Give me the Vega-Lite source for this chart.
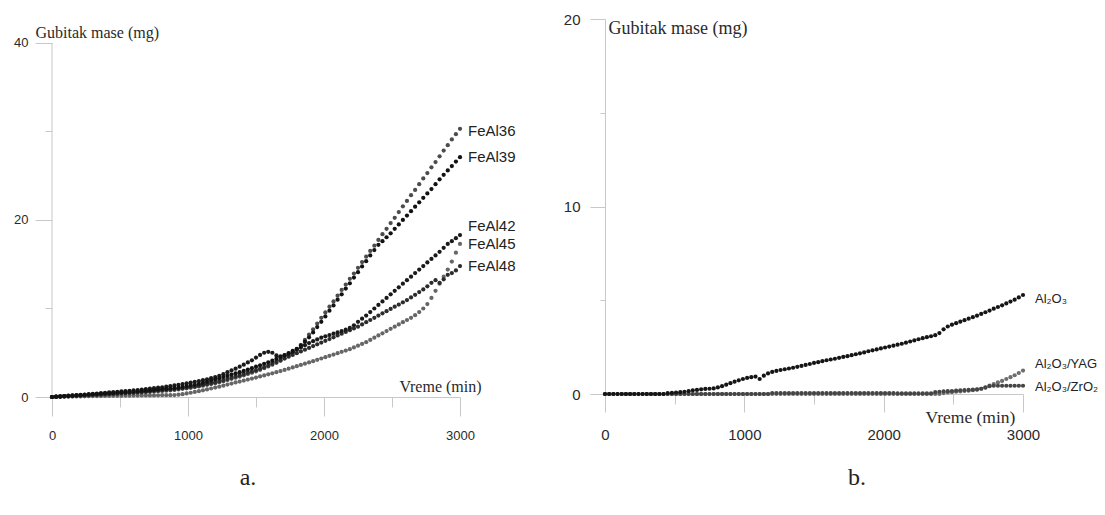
{
  "$schema": "https://vega.github.io/schema/vega-lite/v6.json",
  "autosize": {"type": "pad"},
  "padding": {"left": 13, "top": 12, "right": 0, "bottom": 0},
  "background": "white",
  "bounds": "flush",
  "spacing": 145,
  "resolve": {"scale": {"color": "independent"}},
  "config": {
    "view": {"stroke": null},
    "axis": {"grid": false, "domainColor": "#c8c8c8", "tickColor": "#c8c8c8", "labelColor": "#2a2a2a", "labelFont": "Liberation Sans", "titleFont": "Liberation Serif", "titleFontWeight": "normal", "titleColor": "#2a2a2a", "labelOverlap": false, "labelFlush": false},
    "title": {"font": "Liberation Serif", "fontWeight": "normal", "color": "#222222"}
  },
  "datasets": {
    "oxideFe": [
      {"g":"FeAl45","t":0,"m":0},{"g":"FeAl45","t":30,"m":0.01},{"g":"FeAl45","t":60,"m":0.02},{"g":"FeAl45","t":90,"m":0.03},{"g":"FeAl45","t":120,"m":0.04},{"g":"FeAl45","t":150,"m":0.05},{"g":"FeAl45","t":180,"m":0.06},{"g":"FeAl45","t":210,"m":0.07},{"g":"FeAl45","t":240,"m":0.08},{"g":"FeAl45","t":270,"m":0.09},{"g":"FeAl45","t":300,"m":0.1},{"g":"FeAl45","t":330,"m":0.1},{"g":"FeAl45","t":360,"m":0.11},{"g":"FeAl45","t":390,"m":0.12},{"g":"FeAl45","t":420,"m":0.12},{"g":"FeAl45","t":450,"m":0.13},{"g":"FeAl45","t":480,"m":0.14},{"g":"FeAl45","t":510,"m":0.14},{"g":"FeAl45","t":540,"m":0.15},{"g":"FeAl45","t":570,"m":0.15},{"g":"FeAl45","t":600,"m":0.16},{"g":"FeAl45","t":630,"m":0.16},{"g":"FeAl45","t":660,"m":0.17},{"g":"FeAl45","t":690,"m":0.17},{"g":"FeAl45","t":720,"m":0.18},{"g":"FeAl45","t":750,"m":0.18},{"g":"FeAl45","t":780,"m":0.19},{"g":"FeAl45","t":810,"m":0.2},{"g":"FeAl45","t":840,"m":0.2},{"g":"FeAl45","t":870,"m":0.21},{"g":"FeAl45","t":900,"m":0.22},{"g":"FeAl45","t":930,"m":0.26},{"g":"FeAl45","t":960,"m":0.32},{"g":"FeAl45","t":990,"m":0.4},{"g":"FeAl45","t":1020,"m":0.48},{"g":"FeAl45","t":1050,"m":0.57},{"g":"FeAl45","t":1080,"m":0.66},{"g":"FeAl45","t":1110,"m":0.76},{"g":"FeAl45","t":1140,"m":0.86},{"g":"FeAl45","t":1170,"m":0.96},{"g":"FeAl45","t":1200,"m":1.06},{"g":"FeAl45","t":1230,"m":1.17},{"g":"FeAl45","t":1260,"m":1.28},{"g":"FeAl45","t":1290,"m":1.4},{"g":"FeAl45","t":1320,"m":1.52},{"g":"FeAl45","t":1350,"m":1.64},{"g":"FeAl45","t":1380,"m":1.75},{"g":"FeAl45","t":1410,"m":1.86},{"g":"FeAl45","t":1440,"m":1.97},{"g":"FeAl45","t":1470,"m":2.08},{"g":"FeAl45","t":1500,"m":2.2},{"g":"FeAl45","t":1530,"m":2.32},{"g":"FeAl45","t":1560,"m":2.44},{"g":"FeAl45","t":1590,"m":2.56},{"g":"FeAl45","t":1620,"m":2.68},{"g":"FeAl45","t":1650,"m":2.8},{"g":"FeAl45","t":1680,"m":2.93},{"g":"FeAl45","t":1710,"m":3.06},{"g":"FeAl45","t":1740,"m":3.2},{"g":"FeAl45","t":1770,"m":3.34},{"g":"FeAl45","t":1800,"m":3.48},{"g":"FeAl45","t":1830,"m":3.62},{"g":"FeAl45","t":1860,"m":3.76},{"g":"FeAl45","t":1890,"m":3.9},{"g":"FeAl45","t":1920,"m":4.05},{"g":"FeAl45","t":1950,"m":4.2},{"g":"FeAl45","t":1980,"m":4.35},{"g":"FeAl45","t":2010,"m":4.5},{"g":"FeAl45","t":2040,"m":4.65},{"g":"FeAl45","t":2070,"m":4.8},{"g":"FeAl45","t":2100,"m":4.95},{"g":"FeAl45","t":2130,"m":5.1},{"g":"FeAl45","t":2160,"m":5.25},{"g":"FeAl45","t":2190,"m":5.4},{"g":"FeAl45","t":2220,"m":5.6},{"g":"FeAl45","t":2250,"m":5.8},{"g":"FeAl45","t":2280,"m":6.0},{"g":"FeAl45","t":2310,"m":6.2},{"g":"FeAl45","t":2340,"m":6.45},{"g":"FeAl45","t":2370,"m":6.7},{"g":"FeAl45","t":2400,"m":6.95},{"g":"FeAl45","t":2430,"m":7.2},{"g":"FeAl45","t":2460,"m":7.45},{"g":"FeAl45","t":2490,"m":7.7},{"g":"FeAl45","t":2520,"m":7.95},{"g":"FeAl45","t":2550,"m":8.2},{"g":"FeAl45","t":2580,"m":8.45},{"g":"FeAl45","t":2610,"m":8.7},{"g":"FeAl45","t":2640,"m":8.95},{"g":"FeAl45","t":2670,"m":9.25},{"g":"FeAl45","t":2700,"m":9.6},{"g":"FeAl45","t":2730,"m":10.0},{"g":"FeAl45","t":2760,"m":10.5},{"g":"FeAl45","t":2790,"m":11.2},{"g":"FeAl45","t":2820,"m":12.0},{"g":"FeAl45","t":2850,"m":12.8},{"g":"FeAl45","t":2880,"m":13.6},{"g":"FeAl45","t":2910,"m":14.4},{"g":"FeAl45","t":2940,"m":15.3},{"g":"FeAl45","t":2970,"m":16.3},{"g":"FeAl45","t":3000,"m":17.3},
      {"g":"FeAl36","t":0,"m":0},{"g":"FeAl36","t":30,"m":0.02},{"g":"FeAl36","t":60,"m":0.04},{"g":"FeAl36","t":90,"m":0.06},{"g":"FeAl36","t":120,"m":0.08},{"g":"FeAl36","t":150,"m":0.1},{"g":"FeAl36","t":180,"m":0.12},{"g":"FeAl36","t":210,"m":0.14},{"g":"FeAl36","t":240,"m":0.16},{"g":"FeAl36","t":270,"m":0.18},{"g":"FeAl36","t":300,"m":0.2},{"g":"FeAl36","t":330,"m":0.22},{"g":"FeAl36","t":360,"m":0.24},{"g":"FeAl36","t":390,"m":0.27},{"g":"FeAl36","t":420,"m":0.3},{"g":"FeAl36","t":450,"m":0.32},{"g":"FeAl36","t":480,"m":0.35},{"g":"FeAl36","t":510,"m":0.37},{"g":"FeAl36","t":540,"m":0.4},{"g":"FeAl36","t":570,"m":0.42},{"g":"FeAl36","t":600,"m":0.45},{"g":"FeAl36","t":630,"m":0.48},{"g":"FeAl36","t":660,"m":0.52},{"g":"FeAl36","t":690,"m":0.55},{"g":"FeAl36","t":720,"m":0.58},{"g":"FeAl36","t":750,"m":0.62},{"g":"FeAl36","t":780,"m":0.65},{"g":"FeAl36","t":810,"m":0.69},{"g":"FeAl36","t":840,"m":0.72},{"g":"FeAl36","t":870,"m":0.76},{"g":"FeAl36","t":900,"m":0.8},{"g":"FeAl36","t":930,"m":0.86},{"g":"FeAl36","t":960,"m":0.92},{"g":"FeAl36","t":990,"m":0.98},{"g":"FeAl36","t":1020,"m":1.04},{"g":"FeAl36","t":1050,"m":1.12},{"g":"FeAl36","t":1080,"m":1.2},{"g":"FeAl36","t":1110,"m":1.28},{"g":"FeAl36","t":1140,"m":1.37},{"g":"FeAl36","t":1170,"m":1.46},{"g":"FeAl36","t":1200,"m":1.55},{"g":"FeAl36","t":1230,"m":1.67},{"g":"FeAl36","t":1260,"m":1.79},{"g":"FeAl36","t":1290,"m":1.92},{"g":"FeAl36","t":1320,"m":2.05},{"g":"FeAl36","t":1350,"m":2.18},{"g":"FeAl36","t":1380,"m":2.31},{"g":"FeAl36","t":1410,"m":2.45},{"g":"FeAl36","t":1440,"m":2.6},{"g":"FeAl36","t":1470,"m":2.75},{"g":"FeAl36","t":1500,"m":2.9},{"g":"FeAl36","t":1530,"m":3.07},{"g":"FeAl36","t":1560,"m":3.25},{"g":"FeAl36","t":1590,"m":3.45},{"g":"FeAl36","t":1620,"m":3.65},{"g":"FeAl36","t":1650,"m":3.86},{"g":"FeAl36","t":1680,"m":4.1},{"g":"FeAl36","t":1710,"m":4.35},{"g":"FeAl36","t":1740,"m":4.65},{"g":"FeAl36","t":1770,"m":5.0},{"g":"FeAl36","t":1800,"m":5.4},{"g":"FeAl36","t":1830,"m":5.9},{"g":"FeAl36","t":1860,"m":6.45},{"g":"FeAl36","t":1890,"m":7.05},{"g":"FeAl36","t":1920,"m":7.65},{"g":"FeAl36","t":1950,"m":8.3},{"g":"FeAl36","t":1980,"m":8.95},{"g":"FeAl36","t":2010,"m":9.55},{"g":"FeAl36","t":2040,"m":10.2},{"g":"FeAl36","t":2070,"m":10.8},{"g":"FeAl36","t":2100,"m":11.45},{"g":"FeAl36","t":2130,"m":12.1},{"g":"FeAl36","t":2160,"m":12.7},{"g":"FeAl36","t":2190,"m":13.35},{"g":"FeAl36","t":2220,"m":13.95},{"g":"FeAl36","t":2250,"m":14.6},{"g":"FeAl36","t":2280,"m":15.25},{"g":"FeAl36","t":2310,"m":15.85},{"g":"FeAl36","t":2340,"m":16.5},{"g":"FeAl36","t":2370,"m":17.1},{"g":"FeAl36","t":2400,"m":17.75},{"g":"FeAl36","t":2430,"m":18.4},{"g":"FeAl36","t":2460,"m":19.0},{"g":"FeAl36","t":2490,"m":19.65},{"g":"FeAl36","t":2520,"m":20.25},{"g":"FeAl36","t":2550,"m":20.9},{"g":"FeAl36","t":2580,"m":21.55},{"g":"FeAl36","t":2610,"m":22.15},{"g":"FeAl36","t":2640,"m":22.8},{"g":"FeAl36","t":2670,"m":23.4},{"g":"FeAl36","t":2700,"m":24.05},{"g":"FeAl36","t":2730,"m":24.7},{"g":"FeAl36","t":2760,"m":25.3},{"g":"FeAl36","t":2790,"m":25.95},{"g":"FeAl36","t":2820,"m":26.55},{"g":"FeAl36","t":2850,"m":27.2},{"g":"FeAl36","t":2880,"m":27.85},{"g":"FeAl36","t":2910,"m":28.45},{"g":"FeAl36","t":2940,"m":29.1},{"g":"FeAl36","t":2970,"m":29.7},{"g":"FeAl36","t":3000,"m":30.3},
      {"g":"FeAl48","t":0,"m":0},{"g":"FeAl48","t":30,"m":0.03},{"g":"FeAl48","t":60,"m":0.05},{"g":"FeAl48","t":90,"m":0.08},{"g":"FeAl48","t":120,"m":0.1},{"g":"FeAl48","t":150,"m":0.13},{"g":"FeAl48","t":180,"m":0.15},{"g":"FeAl48","t":210,"m":0.18},{"g":"FeAl48","t":240,"m":0.2},{"g":"FeAl48","t":270,"m":0.23},{"g":"FeAl48","t":300,"m":0.25},{"g":"FeAl48","t":330,"m":0.28},{"g":"FeAl48","t":360,"m":0.3},{"g":"FeAl48","t":390,"m":0.33},{"g":"FeAl48","t":420,"m":0.35},{"g":"FeAl48","t":450,"m":0.38},{"g":"FeAl48","t":480,"m":0.4},{"g":"FeAl48","t":510,"m":0.43},{"g":"FeAl48","t":540,"m":0.45},{"g":"FeAl48","t":570,"m":0.48},{"g":"FeAl48","t":600,"m":0.5},{"g":"FeAl48","t":630,"m":0.54},{"g":"FeAl48","t":660,"m":0.58},{"g":"FeAl48","t":690,"m":0.62},{"g":"FeAl48","t":720,"m":0.66},{"g":"FeAl48","t":750,"m":0.7},{"g":"FeAl48","t":780,"m":0.74},{"g":"FeAl48","t":810,"m":0.78},{"g":"FeAl48","t":840,"m":0.82},{"g":"FeAl48","t":870,"m":0.86},{"g":"FeAl48","t":900,"m":0.9},{"g":"FeAl48","t":930,"m":0.95},{"g":"FeAl48","t":960,"m":1.0},{"g":"FeAl48","t":990,"m":1.06},{"g":"FeAl48","t":1020,"m":1.13},{"g":"FeAl48","t":1050,"m":1.2},{"g":"FeAl48","t":1080,"m":1.28},{"g":"FeAl48","t":1110,"m":1.37},{"g":"FeAl48","t":1140,"m":1.47},{"g":"FeAl48","t":1170,"m":1.57},{"g":"FeAl48","t":1200,"m":1.68},{"g":"FeAl48","t":1230,"m":1.8},{"g":"FeAl48","t":1260,"m":1.92},{"g":"FeAl48","t":1290,"m":2.05},{"g":"FeAl48","t":1320,"m":2.18},{"g":"FeAl48","t":1350,"m":2.32},{"g":"FeAl48","t":1380,"m":2.46},{"g":"FeAl48","t":1410,"m":2.6},{"g":"FeAl48","t":1440,"m":2.75},{"g":"FeAl48","t":1470,"m":2.9},{"g":"FeAl48","t":1500,"m":3.05},{"g":"FeAl48","t":1530,"m":3.2},{"g":"FeAl48","t":1560,"m":3.37},{"g":"FeAl48","t":1590,"m":3.55},{"g":"FeAl48","t":1620,"m":3.75},{"g":"FeAl48","t":1650,"m":3.95},{"g":"FeAl48","t":1680,"m":4.15},{"g":"FeAl48","t":1710,"m":4.35},{"g":"FeAl48","t":1740,"m":4.55},{"g":"FeAl48","t":1770,"m":4.75},{"g":"FeAl48","t":1800,"m":4.95},{"g":"FeAl48","t":1830,"m":5.15},{"g":"FeAl48","t":1860,"m":5.35},{"g":"FeAl48","t":1890,"m":5.55},{"g":"FeAl48","t":1920,"m":5.75},{"g":"FeAl48","t":1950,"m":5.95},{"g":"FeAl48","t":1980,"m":6.15},{"g":"FeAl48","t":2010,"m":6.35},{"g":"FeAl48","t":2040,"m":6.55},{"g":"FeAl48","t":2070,"m":6.75},{"g":"FeAl48","t":2100,"m":6.95},{"g":"FeAl48","t":2130,"m":7.15},{"g":"FeAl48","t":2160,"m":7.35},{"g":"FeAl48","t":2190,"m":7.55},{"g":"FeAl48","t":2220,"m":7.75},{"g":"FeAl48","t":2250,"m":7.95},{"g":"FeAl48","t":2280,"m":8.2},{"g":"FeAl48","t":2310,"m":8.45},{"g":"FeAl48","t":2340,"m":8.7},{"g":"FeAl48","t":2370,"m":8.95},{"g":"FeAl48","t":2400,"m":9.2},{"g":"FeAl48","t":2430,"m":9.45},{"g":"FeAl48","t":2460,"m":9.7},{"g":"FeAl48","t":2490,"m":9.95},{"g":"FeAl48","t":2520,"m":10.2},{"g":"FeAl48","t":2550,"m":10.45},{"g":"FeAl48","t":2580,"m":10.7},{"g":"FeAl48","t":2610,"m":10.95},{"g":"FeAl48","t":2640,"m":11.25},{"g":"FeAl48","t":2670,"m":11.55},{"g":"FeAl48","t":2700,"m":11.85},{"g":"FeAl48","t":2730,"m":12.15},{"g":"FeAl48","t":2760,"m":12.5},{"g":"FeAl48","t":2790,"m":12.9},{"g":"FeAl48","t":2820,"m":13.2},{"g":"FeAl48","t":2850,"m":12.9},{"g":"FeAl48","t":2880,"m":13.3},{"g":"FeAl48","t":2910,"m":13.8},{"g":"FeAl48","t":2940,"m":14.0},{"g":"FeAl48","t":2970,"m":14.3},{"g":"FeAl48","t":3000,"m":14.8},
      {"g":"FeAl42","t":0,"m":0},{"g":"FeAl42","t":30,"m":0.04},{"g":"FeAl42","t":60,"m":0.08},{"g":"FeAl42","t":90,"m":0.11},{"g":"FeAl42","t":120,"m":0.15},{"g":"FeAl42","t":150,"m":0.18},{"g":"FeAl42","t":180,"m":0.22},{"g":"FeAl42","t":210,"m":0.25},{"g":"FeAl42","t":240,"m":0.28},{"g":"FeAl42","t":270,"m":0.32},{"g":"FeAl42","t":300,"m":0.35},{"g":"FeAl42","t":330,"m":0.39},{"g":"FeAl42","t":360,"m":0.43},{"g":"FeAl42","t":390,"m":0.47},{"g":"FeAl42","t":420,"m":0.51},{"g":"FeAl42","t":450,"m":0.55},{"g":"FeAl42","t":480,"m":0.59},{"g":"FeAl42","t":510,"m":0.63},{"g":"FeAl42","t":540,"m":0.67},{"g":"FeAl42","t":570,"m":0.7},{"g":"FeAl42","t":600,"m":0.74},{"g":"FeAl42","t":630,"m":0.79},{"g":"FeAl42","t":660,"m":0.84},{"g":"FeAl42","t":690,"m":0.89},{"g":"FeAl42","t":720,"m":0.94},{"g":"FeAl42","t":750,"m":1.0},{"g":"FeAl42","t":780,"m":1.05},{"g":"FeAl42","t":810,"m":1.1},{"g":"FeAl42","t":840,"m":1.16},{"g":"FeAl42","t":870,"m":1.22},{"g":"FeAl42","t":900,"m":1.3},{"g":"FeAl42","t":930,"m":1.38},{"g":"FeAl42","t":960,"m":1.46},{"g":"FeAl42","t":990,"m":1.55},{"g":"FeAl42","t":1020,"m":1.63},{"g":"FeAl42","t":1050,"m":1.72},{"g":"FeAl42","t":1080,"m":1.8},{"g":"FeAl42","t":1110,"m":1.9},{"g":"FeAl42","t":1140,"m":2.0},{"g":"FeAl42","t":1170,"m":2.12},{"g":"FeAl42","t":1200,"m":2.25},{"g":"FeAl42","t":1230,"m":2.4},{"g":"FeAl42","t":1260,"m":2.58},{"g":"FeAl42","t":1290,"m":2.8},{"g":"FeAl42","t":1320,"m":3.0},{"g":"FeAl42","t":1350,"m":3.2},{"g":"FeAl42","t":1380,"m":3.42},{"g":"FeAl42","t":1410,"m":3.65},{"g":"FeAl42","t":1440,"m":3.9},{"g":"FeAl42","t":1470,"m":4.15},{"g":"FeAl42","t":1500,"m":4.45},{"g":"FeAl42","t":1530,"m":4.75},{"g":"FeAl42","t":1560,"m":5.0},{"g":"FeAl42","t":1590,"m":5.1},{"g":"FeAl42","t":1620,"m":5.0},{"g":"FeAl42","t":1650,"m":4.7},{"g":"FeAl42","t":1680,"m":4.6},{"g":"FeAl42","t":1710,"m":4.7},{"g":"FeAl42","t":1740,"m":4.9},{"g":"FeAl42","t":1770,"m":5.1},{"g":"FeAl42","t":1800,"m":5.35},{"g":"FeAl42","t":1830,"m":5.6},{"g":"FeAl42","t":1860,"m":5.85},{"g":"FeAl42","t":1890,"m":6.1},{"g":"FeAl42","t":1920,"m":6.3},{"g":"FeAl42","t":1950,"m":6.5},{"g":"FeAl42","t":1980,"m":6.7},{"g":"FeAl42","t":2010,"m":6.85},{"g":"FeAl42","t":2040,"m":7.0},{"g":"FeAl42","t":2070,"m":7.15},{"g":"FeAl42","t":2100,"m":7.3},{"g":"FeAl42","t":2130,"m":7.45},{"g":"FeAl42","t":2160,"m":7.6},{"g":"FeAl42","t":2190,"m":7.8},{"g":"FeAl42","t":2220,"m":8.1},{"g":"FeAl42","t":2250,"m":8.5},{"g":"FeAl42","t":2280,"m":8.85},{"g":"FeAl42","t":2310,"m":9.2},{"g":"FeAl42","t":2340,"m":9.6},{"g":"FeAl42","t":2370,"m":10.0},{"g":"FeAl42","t":2400,"m":10.4},{"g":"FeAl42","t":2430,"m":10.8},{"g":"FeAl42","t":2460,"m":11.2},{"g":"FeAl42","t":2490,"m":11.6},{"g":"FeAl42","t":2520,"m":12.0},{"g":"FeAl42","t":2550,"m":12.4},{"g":"FeAl42","t":2580,"m":12.8},{"g":"FeAl42","t":2610,"m":13.2},{"g":"FeAl42","t":2640,"m":13.6},{"g":"FeAl42","t":2670,"m":14.0},{"g":"FeAl42","t":2700,"m":14.4},{"g":"FeAl42","t":2730,"m":14.8},{"g":"FeAl42","t":2760,"m":15.2},{"g":"FeAl42","t":2790,"m":15.6},{"g":"FeAl42","t":2820,"m":16.0},{"g":"FeAl42","t":2850,"m":16.4},{"g":"FeAl42","t":2880,"m":16.85},{"g":"FeAl42","t":2910,"m":17.3},{"g":"FeAl42","t":2940,"m":17.6},{"g":"FeAl42","t":2970,"m":17.95},{"g":"FeAl42","t":3000,"m":18.3},
      {"g":"FeAl39","t":0,"m":0},{"g":"FeAl39","t":30,"m":0.03},{"g":"FeAl39","t":60,"m":0.06},{"g":"FeAl39","t":90,"m":0.09},{"g":"FeAl39","t":120,"m":0.12},{"g":"FeAl39","t":150,"m":0.15},{"g":"FeAl39","t":180,"m":0.18},{"g":"FeAl39","t":210,"m":0.21},{"g":"FeAl39","t":240,"m":0.24},{"g":"FeAl39","t":270,"m":0.27},{"g":"FeAl39","t":300,"m":0.3},{"g":"FeAl39","t":330,"m":0.33},{"g":"FeAl39","t":360,"m":0.36},{"g":"FeAl39","t":390,"m":0.39},{"g":"FeAl39","t":420,"m":0.42},{"g":"FeAl39","t":450,"m":0.45},{"g":"FeAl39","t":480,"m":0.48},{"g":"FeAl39","t":510,"m":0.51},{"g":"FeAl39","t":540,"m":0.54},{"g":"FeAl39","t":570,"m":0.57},{"g":"FeAl39","t":600,"m":0.6},{"g":"FeAl39","t":630,"m":0.64},{"g":"FeAl39","t":660,"m":0.68},{"g":"FeAl39","t":690,"m":0.72},{"g":"FeAl39","t":720,"m":0.76},{"g":"FeAl39","t":750,"m":0.8},{"g":"FeAl39","t":780,"m":0.84},{"g":"FeAl39","t":810,"m":0.88},{"g":"FeAl39","t":840,"m":0.92},{"g":"FeAl39","t":870,"m":0.96},{"g":"FeAl39","t":900,"m":1.0},{"g":"FeAl39","t":930,"m":1.06},{"g":"FeAl39","t":960,"m":1.14},{"g":"FeAl39","t":990,"m":1.22},{"g":"FeAl39","t":1020,"m":1.3},{"g":"FeAl39","t":1050,"m":1.38},{"g":"FeAl39","t":1080,"m":1.47},{"g":"FeAl39","t":1110,"m":1.6},{"g":"FeAl39","t":1140,"m":1.72},{"g":"FeAl39","t":1170,"m":1.86},{"g":"FeAl39","t":1200,"m":2.0},{"g":"FeAl39","t":1230,"m":2.13},{"g":"FeAl39","t":1260,"m":2.26},{"g":"FeAl39","t":1290,"m":2.4},{"g":"FeAl39","t":1320,"m":2.53},{"g":"FeAl39","t":1350,"m":2.67},{"g":"FeAl39","t":1380,"m":2.81},{"g":"FeAl39","t":1410,"m":2.95},{"g":"FeAl39","t":1440,"m":3.1},{"g":"FeAl39","t":1470,"m":3.26},{"g":"FeAl39","t":1500,"m":3.42},{"g":"FeAl39","t":1530,"m":3.58},{"g":"FeAl39","t":1560,"m":3.75},{"g":"FeAl39","t":1590,"m":3.92},{"g":"FeAl39","t":1620,"m":4.1},{"g":"FeAl39","t":1650,"m":4.3},{"g":"FeAl39","t":1680,"m":4.5},{"g":"FeAl39","t":1710,"m":4.72},{"g":"FeAl39","t":1740,"m":4.95},{"g":"FeAl39","t":1770,"m":5.2},{"g":"FeAl39","t":1800,"m":5.45},{"g":"FeAl39","t":1830,"m":5.8},{"g":"FeAl39","t":1860,"m":6.25},{"g":"FeAl39","t":1890,"m":6.75},{"g":"FeAl39","t":1920,"m":7.3},{"g":"FeAl39","t":1950,"m":7.9},{"g":"FeAl39","t":1980,"m":8.5},{"g":"FeAl39","t":2010,"m":9.1},{"g":"FeAl39","t":2040,"m":9.75},{"g":"FeAl39","t":2070,"m":10.35},{"g":"FeAl39","t":2100,"m":11.0},{"g":"FeAl39","t":2130,"m":11.6},{"g":"FeAl39","t":2160,"m":12.25},{"g":"FeAl39","t":2190,"m":12.85},{"g":"FeAl39","t":2220,"m":13.5},{"g":"FeAl39","t":2250,"m":14.1},{"g":"FeAl39","t":2280,"m":14.75},{"g":"FeAl39","t":2310,"m":15.35},{"g":"FeAl39","t":2340,"m":16.0},{"g":"FeAl39","t":2370,"m":16.6},{"g":"FeAl39","t":2400,"m":17.2},{"g":"FeAl39","t":2430,"m":17.6},{"g":"FeAl39","t":2460,"m":18.05},{"g":"FeAl39","t":2490,"m":18.5},{"g":"FeAl39","t":2520,"m":19.0},{"g":"FeAl39","t":2550,"m":19.5},{"g":"FeAl39","t":2580,"m":20.0},{"g":"FeAl39","t":2610,"m":20.5},{"g":"FeAl39","t":2640,"m":21.0},{"g":"FeAl39","t":2670,"m":21.5},{"g":"FeAl39","t":2700,"m":22.0},{"g":"FeAl39","t":2730,"m":22.5},{"g":"FeAl39","t":2760,"m":23.0},{"g":"FeAl39","t":2790,"m":23.5},{"g":"FeAl39","t":2820,"m":24.05},{"g":"FeAl39","t":2850,"m":24.6},{"g":"FeAl39","t":2880,"m":25.1},{"g":"FeAl39","t":2910,"m":25.6},{"g":"FeAl39","t":2940,"m":26.1},{"g":"FeAl39","t":2970,"m":26.6},{"g":"FeAl39","t":3000,"m":27.1}
    ],
    "oxideCeramic": [
      {"g":"YAG","t":0,"m":0},{"g":"YAG","t":30,"m":0},{"g":"YAG","t":60,"m":0},{"g":"YAG","t":90,"m":0},{"g":"YAG","t":120,"m":0},{"g":"YAG","t":150,"m":0},{"g":"YAG","t":180,"m":0},{"g":"YAG","t":210,"m":0},{"g":"YAG","t":240,"m":0},{"g":"YAG","t":270,"m":0},{"g":"YAG","t":300,"m":0},{"g":"YAG","t":330,"m":0},{"g":"YAG","t":360,"m":0},{"g":"YAG","t":390,"m":0},{"g":"YAG","t":420,"m":0},{"g":"YAG","t":450,"m":0},{"g":"YAG","t":480,"m":0},{"g":"YAG","t":510,"m":0},{"g":"YAG","t":540,"m":0},{"g":"YAG","t":570,"m":0},{"g":"YAG","t":600,"m":0},{"g":"YAG","t":630,"m":0},{"g":"YAG","t":660,"m":0},{"g":"YAG","t":690,"m":0},{"g":"YAG","t":720,"m":0},{"g":"YAG","t":750,"m":0},{"g":"YAG","t":780,"m":0},{"g":"YAG","t":810,"m":0},{"g":"YAG","t":840,"m":0},{"g":"YAG","t":870,"m":0},{"g":"YAG","t":900,"m":0},{"g":"YAG","t":930,"m":0},{"g":"YAG","t":960,"m":0},{"g":"YAG","t":990,"m":0},{"g":"YAG","t":1020,"m":0},{"g":"YAG","t":1050,"m":0},{"g":"YAG","t":1080,"m":0},{"g":"YAG","t":1110,"m":0},{"g":"YAG","t":1140,"m":0},{"g":"YAG","t":1170,"m":0},{"g":"YAG","t":1200,"m":0},{"g":"YAG","t":1230,"m":0},{"g":"YAG","t":1260,"m":0},{"g":"YAG","t":1290,"m":0},{"g":"YAG","t":1320,"m":0},{"g":"YAG","t":1350,"m":0},{"g":"YAG","t":1380,"m":0},{"g":"YAG","t":1410,"m":0},{"g":"YAG","t":1440,"m":0},{"g":"YAG","t":1470,"m":0},{"g":"YAG","t":1500,"m":0},{"g":"YAG","t":1530,"m":0},{"g":"YAG","t":1560,"m":0},{"g":"YAG","t":1590,"m":0},{"g":"YAG","t":1620,"m":0},{"g":"YAG","t":1650,"m":0},{"g":"YAG","t":1680,"m":0},{"g":"YAG","t":1710,"m":0},{"g":"YAG","t":1740,"m":0},{"g":"YAG","t":1770,"m":0},{"g":"YAG","t":1800,"m":0},{"g":"YAG","t":1830,"m":0},{"g":"YAG","t":1860,"m":0},{"g":"YAG","t":1890,"m":0},{"g":"YAG","t":1920,"m":0},{"g":"YAG","t":1950,"m":0},{"g":"YAG","t":1980,"m":0},{"g":"YAG","t":2010,"m":0},{"g":"YAG","t":2040,"m":0},{"g":"YAG","t":2070,"m":0},{"g":"YAG","t":2100,"m":0},{"g":"YAG","t":2130,"m":0},{"g":"YAG","t":2160,"m":0},{"g":"YAG","t":2190,"m":0},{"g":"YAG","t":2220,"m":0},{"g":"YAG","t":2250,"m":0},{"g":"YAG","t":2280,"m":0},{"g":"YAG","t":2310,"m":0},{"g":"YAG","t":2340,"m":0},{"g":"YAG","t":2370,"m":0},{"g":"YAG","t":2400,"m":0},{"g":"YAG","t":2430,"m":0.05},{"g":"YAG","t":2460,"m":0.08},{"g":"YAG","t":2490,"m":0.1},{"g":"YAG","t":2520,"m":0.12},{"g":"YAG","t":2550,"m":0.14},{"g":"YAG","t":2580,"m":0.16},{"g":"YAG","t":2610,"m":0.18},{"g":"YAG","t":2640,"m":0.2},{"g":"YAG","t":2670,"m":0.23},{"g":"YAG","t":2700,"m":0.28},{"g":"YAG","t":2730,"m":0.36},{"g":"YAG","t":2760,"m":0.45},{"g":"YAG","t":2790,"m":0.53},{"g":"YAG","t":2820,"m":0.62},{"g":"YAG","t":2850,"m":0.7},{"g":"YAG","t":2880,"m":0.8},{"g":"YAG","t":2910,"m":0.9},{"g":"YAG","t":2940,"m":1.0},{"g":"YAG","t":2970,"m":1.12},{"g":"YAG","t":3000,"m":1.25},
      {"g":"ZrO2","t":0,"m":0},{"g":"ZrO2","t":30,"m":0},{"g":"ZrO2","t":60,"m":0},{"g":"ZrO2","t":90,"m":0},{"g":"ZrO2","t":120,"m":0},{"g":"ZrO2","t":150,"m":0},{"g":"ZrO2","t":180,"m":0},{"g":"ZrO2","t":210,"m":0},{"g":"ZrO2","t":240,"m":0},{"g":"ZrO2","t":270,"m":0},{"g":"ZrO2","t":300,"m":0},{"g":"ZrO2","t":330,"m":0},{"g":"ZrO2","t":360,"m":0},{"g":"ZrO2","t":390,"m":0},{"g":"ZrO2","t":420,"m":0},{"g":"ZrO2","t":450,"m":0},{"g":"ZrO2","t":480,"m":0},{"g":"ZrO2","t":510,"m":0},{"g":"ZrO2","t":540,"m":0},{"g":"ZrO2","t":570,"m":0},{"g":"ZrO2","t":600,"m":0},{"g":"ZrO2","t":630,"m":0},{"g":"ZrO2","t":660,"m":0},{"g":"ZrO2","t":690,"m":0},{"g":"ZrO2","t":720,"m":0},{"g":"ZrO2","t":750,"m":0},{"g":"ZrO2","t":780,"m":0},{"g":"ZrO2","t":810,"m":0},{"g":"ZrO2","t":840,"m":0},{"g":"ZrO2","t":870,"m":0},{"g":"ZrO2","t":900,"m":0},{"g":"ZrO2","t":930,"m":0},{"g":"ZrO2","t":960,"m":0},{"g":"ZrO2","t":990,"m":0},{"g":"ZrO2","t":1020,"m":0},{"g":"ZrO2","t":1050,"m":0},{"g":"ZrO2","t":1080,"m":0},{"g":"ZrO2","t":1110,"m":0},{"g":"ZrO2","t":1140,"m":0},{"g":"ZrO2","t":1170,"m":0},{"g":"ZrO2","t":1200,"m":0.05},{"g":"ZrO2","t":1230,"m":0.05},{"g":"ZrO2","t":1260,"m":0.05},{"g":"ZrO2","t":1290,"m":0.05},{"g":"ZrO2","t":1320,"m":0.05},{"g":"ZrO2","t":1350,"m":0.05},{"g":"ZrO2","t":1380,"m":0.05},{"g":"ZrO2","t":1410,"m":0.05},{"g":"ZrO2","t":1440,"m":0.05},{"g":"ZrO2","t":1470,"m":0.05},{"g":"ZrO2","t":1500,"m":0.05},{"g":"ZrO2","t":1530,"m":0.05},{"g":"ZrO2","t":1560,"m":0.05},{"g":"ZrO2","t":1590,"m":0.05},{"g":"ZrO2","t":1620,"m":0.05},{"g":"ZrO2","t":1650,"m":0.05},{"g":"ZrO2","t":1680,"m":0.05},{"g":"ZrO2","t":1710,"m":0.05},{"g":"ZrO2","t":1740,"m":0.05},{"g":"ZrO2","t":1770,"m":0.05},{"g":"ZrO2","t":1800,"m":0.05},{"g":"ZrO2","t":1830,"m":0.05},{"g":"ZrO2","t":1860,"m":0.05},{"g":"ZrO2","t":1890,"m":0.05},{"g":"ZrO2","t":1920,"m":0.05},{"g":"ZrO2","t":1950,"m":0.05},{"g":"ZrO2","t":1980,"m":0.05},{"g":"ZrO2","t":2010,"m":0.05},{"g":"ZrO2","t":2040,"m":0.05},{"g":"ZrO2","t":2070,"m":0.05},{"g":"ZrO2","t":2100,"m":0.03},{"g":"ZrO2","t":2130,"m":0.03},{"g":"ZrO2","t":2160,"m":0.03},{"g":"ZrO2","t":2190,"m":0.03},{"g":"ZrO2","t":2220,"m":0.03},{"g":"ZrO2","t":2250,"m":0.03},{"g":"ZrO2","t":2280,"m":0.03},{"g":"ZrO2","t":2310,"m":0.03},{"g":"ZrO2","t":2340,"m":0.03},{"g":"ZrO2","t":2370,"m":0.1},{"g":"ZrO2","t":2400,"m":0.12},{"g":"ZrO2","t":2430,"m":0.14},{"g":"ZrO2","t":2460,"m":0.15},{"g":"ZrO2","t":2490,"m":0.16},{"g":"ZrO2","t":2520,"m":0.18},{"g":"ZrO2","t":2550,"m":0.2},{"g":"ZrO2","t":2580,"m":0.21},{"g":"ZrO2","t":2610,"m":0.22},{"g":"ZrO2","t":2640,"m":0.23},{"g":"ZrO2","t":2670,"m":0.25},{"g":"ZrO2","t":2700,"m":0.28},{"g":"ZrO2","t":2730,"m":0.34},{"g":"ZrO2","t":2760,"m":0.42},{"g":"ZrO2","t":2790,"m":0.44},{"g":"ZrO2","t":2820,"m":0.44},{"g":"ZrO2","t":2850,"m":0.44},{"g":"ZrO2","t":2880,"m":0.44},{"g":"ZrO2","t":2910,"m":0.44},{"g":"ZrO2","t":2940,"m":0.44},{"g":"ZrO2","t":2970,"m":0.44},{"g":"ZrO2","t":3000,"m":0.44},
      {"g":"Al2O3","t":0,"m":0},{"g":"Al2O3","t":30,"m":0},{"g":"Al2O3","t":60,"m":0},{"g":"Al2O3","t":90,"m":0},{"g":"Al2O3","t":120,"m":0},{"g":"Al2O3","t":150,"m":0},{"g":"Al2O3","t":180,"m":0},{"g":"Al2O3","t":210,"m":0},{"g":"Al2O3","t":240,"m":0},{"g":"Al2O3","t":270,"m":0},{"g":"Al2O3","t":300,"m":0},{"g":"Al2O3","t":330,"m":0},{"g":"Al2O3","t":360,"m":0},{"g":"Al2O3","t":390,"m":0},{"g":"Al2O3","t":420,"m":0},{"g":"Al2O3","t":450,"m":0.05},{"g":"Al2O3","t":480,"m":0.06},{"g":"Al2O3","t":510,"m":0.08},{"g":"Al2O3","t":540,"m":0.1},{"g":"Al2O3","t":570,"m":0.12},{"g":"Al2O3","t":600,"m":0.15},{"g":"Al2O3","t":630,"m":0.2},{"g":"Al2O3","t":660,"m":0.22},{"g":"Al2O3","t":690,"m":0.25},{"g":"Al2O3","t":720,"m":0.27},{"g":"Al2O3","t":750,"m":0.28},{"g":"Al2O3","t":780,"m":0.3},{"g":"Al2O3","t":810,"m":0.35},{"g":"Al2O3","t":840,"m":0.42},{"g":"Al2O3","t":870,"m":0.5},{"g":"Al2O3","t":900,"m":0.58},{"g":"Al2O3","t":930,"m":0.66},{"g":"Al2O3","t":960,"m":0.73},{"g":"Al2O3","t":990,"m":0.8},{"g":"Al2O3","t":1020,"m":0.86},{"g":"Al2O3","t":1050,"m":0.9},{"g":"Al2O3","t":1080,"m":0.93},{"g":"Al2O3","t":1110,"m":0.8},{"g":"Al2O3","t":1140,"m":0.98},{"g":"Al2O3","t":1170,"m":1.1},{"g":"Al2O3","t":1200,"m":1.18},{"g":"Al2O3","t":1230,"m":1.23},{"g":"Al2O3","t":1260,"m":1.28},{"g":"Al2O3","t":1290,"m":1.32},{"g":"Al2O3","t":1320,"m":1.36},{"g":"Al2O3","t":1350,"m":1.4},{"g":"Al2O3","t":1380,"m":1.45},{"g":"Al2O3","t":1410,"m":1.5},{"g":"Al2O3","t":1440,"m":1.55},{"g":"Al2O3","t":1470,"m":1.6},{"g":"Al2O3","t":1500,"m":1.66},{"g":"Al2O3","t":1530,"m":1.7},{"g":"Al2O3","t":1560,"m":1.75},{"g":"Al2O3","t":1590,"m":1.8},{"g":"Al2O3","t":1620,"m":1.84},{"g":"Al2O3","t":1650,"m":1.88},{"g":"Al2O3","t":1680,"m":1.93},{"g":"Al2O3","t":1710,"m":1.98},{"g":"Al2O3","t":1740,"m":2.02},{"g":"Al2O3","t":1770,"m":2.07},{"g":"Al2O3","t":1800,"m":2.12},{"g":"Al2O3","t":1830,"m":2.17},{"g":"Al2O3","t":1860,"m":2.22},{"g":"Al2O3","t":1890,"m":2.28},{"g":"Al2O3","t":1920,"m":2.33},{"g":"Al2O3","t":1950,"m":2.38},{"g":"Al2O3","t":1980,"m":2.43},{"g":"Al2O3","t":2010,"m":2.48},{"g":"Al2O3","t":2040,"m":2.53},{"g":"Al2O3","t":2070,"m":2.58},{"g":"Al2O3","t":2100,"m":2.63},{"g":"Al2O3","t":2130,"m":2.68},{"g":"Al2O3","t":2160,"m":2.74},{"g":"Al2O3","t":2190,"m":2.8},{"g":"Al2O3","t":2220,"m":2.86},{"g":"Al2O3","t":2250,"m":2.92},{"g":"Al2O3","t":2280,"m":2.98},{"g":"Al2O3","t":2310,"m":3.03},{"g":"Al2O3","t":2340,"m":3.08},{"g":"Al2O3","t":2370,"m":3.14},{"g":"Al2O3","t":2400,"m":3.25},{"g":"Al2O3","t":2430,"m":3.45},{"g":"Al2O3","t":2460,"m":3.6},{"g":"Al2O3","t":2490,"m":3.7},{"g":"Al2O3","t":2520,"m":3.78},{"g":"Al2O3","t":2550,"m":3.86},{"g":"Al2O3","t":2580,"m":3.94},{"g":"Al2O3","t":2610,"m":4.02},{"g":"Al2O3","t":2640,"m":4.1},{"g":"Al2O3","t":2670,"m":4.18},{"g":"Al2O3","t":2700,"m":4.27},{"g":"Al2O3","t":2730,"m":4.36},{"g":"Al2O3","t":2760,"m":4.45},{"g":"Al2O3","t":2790,"m":4.55},{"g":"Al2O3","t":2820,"m":4.64},{"g":"Al2O3","t":2850,"m":4.73},{"g":"Al2O3","t":2880,"m":4.83},{"g":"Al2O3","t":2910,"m":4.93},{"g":"Al2O3","t":2940,"m":5.03},{"g":"Al2O3","t":2970,"m":5.15},{"g":"Al2O3","t":3000,"m":5.28}
    ],
    "feNames": [
      {"label":"FeAl36","t":3000,"m":30.1},
      {"label":"FeAl39","t":3000,"m":27.1},
      {"label":"FeAl42","t":3000,"m":19.3},
      {"label":"FeAl45","t":3000,"m":17.3},
      {"label":"FeAl48","t":3000,"m":14.8}
    ],
    "ceramicNames": [
      {"label":"Al₂O₃","t":3000,"m":5.07},
      {"label":"Al₂O₃/YAG","t":3000,"m":1.6},
      {"label":"Al₂O₃/ZrO₂","t":3000,"m":0.37}
    ]
  },
  "hconcat": [
    {
      "width": 408,
      "height": 378,
      "title": {"text": "a.", "orient": "bottom", "fontSize": 24, "offset": 24, "dx": -8},
      "layer": [
        {
          "data": {"values": [{}]},
          "mark": {"type": "rule", "color": "#c8c8c8", "strokeWidth": 1},
          "encoding": {"x": {"datum": 0, "type": "quantitative"}, "y": {"datum": 0, "type": "quantitative"}, "y2": {"datum": 40}}
        },
        {
          "data": {"name": "oxideFe"},
          "mark": {"type": "circle", "size": 18, "opacity": 1},
          "encoding": {
            "x": {"field": "t", "type": "quantitative",
              "scale": {"domain": [0, 3000], "nice": false, "zero": false},
              "axis": {"values": [0, 500, 1000, 1500, 2000, 2500, 3000], "format": "d",
                "labelExpr": "datum.value % 1000 === 0 ? datum.label : ''",
                "tickSize": {"condition": {"test": "datum.value % 1000 === 0", "value": 19}, "value": 10},
                "labelFontSize": 13, "labelBaseline": "middle", "labelPadding": 19,
                "title": "Vreme (min)", "titleFontSize": 16, "titleX": 388, "titleY": -11, "titleAlign": "center", "titleBaseline": "middle"}},
            "y": {"field": "m", "type": "quantitative",
              "scale": {"domain": [0, 42.71], "nice": false},
              "axis": {"values": [0, 10, 20, 30, 40], "domain": false,
                "labelExpr": "datum.value % 20 === 0 ? datum.label : ''",
                "tickSize": {"condition": {"test": "datum.value % 20 === 0", "value": 17}, "value": 7},
                "labelFontSize": 13, "labelPadding": 7,
                "title": "Gubitak mase (mg)", "titleFontSize": 16, "titleAngle": 0, "titleX": -17, "titleY": 13, "titleAlign": "left", "titleBaseline": "middle"}},
            "color": {"field": "g", "type": "nominal", "legend": null,
              "scale": {"domain": ["FeAl36", "FeAl39", "FeAl42", "FeAl45", "FeAl48"], "range": ["#4c4c4c", "#121212", "#1a1a1a", "#666666", "#2c2c2c"]}}
          }
        },
        {
          "data": {"name": "feNames"},
          "mark": {"type": "text", "align": "left", "baseline": "middle", "dx": 8, "font": "Liberation Sans", "fontSize": 15, "color": "#222222"},
          "encoding": {"x": {"field": "t", "type": "quantitative"}, "y": {"field": "m", "type": "quantitative"}, "text": {"field": "label"}}
        }
      ]
    },
    {
      "width": 418,
      "height": 375,
      "title": {"text": "b.", "orient": "bottom", "fontSize": 24, "offset": 24, "dx": 43},
      "layer": [
        {
          "data": {"name": "oxideCeramic"},
          "mark": {"type": "circle", "size": 18, "opacity": 1},
          "encoding": {
            "x": {"field": "t", "type": "quantitative",
              "scale": {"domain": [0, 3000], "nice": false, "zero": false},
              "axis": {"values": [0, 500, 1000, 1500, 2000, 2500, 3000], "format": "d",
                "labelExpr": "datum.value % 1000 === 0 ? datum.label : ''",
                "tickSize": {"condition": {"test": "datum.value % 1000 === 0", "value": 18}, "value": 10},
                "labelFontSize": 15, "labelBaseline": "middle", "labelPadding": 22,
                "title": "Vreme (min)", "titleFontSize": 17.5, "titleX": 365, "titleY": 23, "titleAlign": "center", "titleBaseline": "middle"}},
            "y": {"field": "m", "type": "quantitative",
              "scale": {"domain": [0, 20], "nice": false},
              "axis": {"values": [0, 5, 10, 15, 20],
                "labelExpr": "datum.value % 10 === 0 ? datum.label : ''",
                "tickSize": {"condition": {"test": "datum.value % 10 === 0", "value": 15}, "value": 5},
                "labelFontSize": 15, "labelPadding": 10,
                "title": "Gubitak mase (mg)", "titleFontSize": 18, "titleAngle": 0, "titleX": 3, "titleY": 9, "titleAlign": "left", "titleBaseline": "middle"}},
            "color": {"field": "g", "type": "nominal", "legend": null,
              "scale": {"domain": ["Al2O3", "YAG", "ZrO2"], "range": ["#151515", "#6e6e6e", "#454545"]}}
          }
        },
        {
          "data": {"name": "ceramicNames"},
          "mark": {"type": "text", "align": "left", "baseline": "middle", "dx": 12, "font": "Liberation Sans", "fontSize": 13, "color": "#222222"},
          "encoding": {"x": {"field": "t", "type": "quantitative"}, "y": {"field": "m", "type": "quantitative"}, "text": {"field": "label"}}
        }
      ]
    }
  ]
}
